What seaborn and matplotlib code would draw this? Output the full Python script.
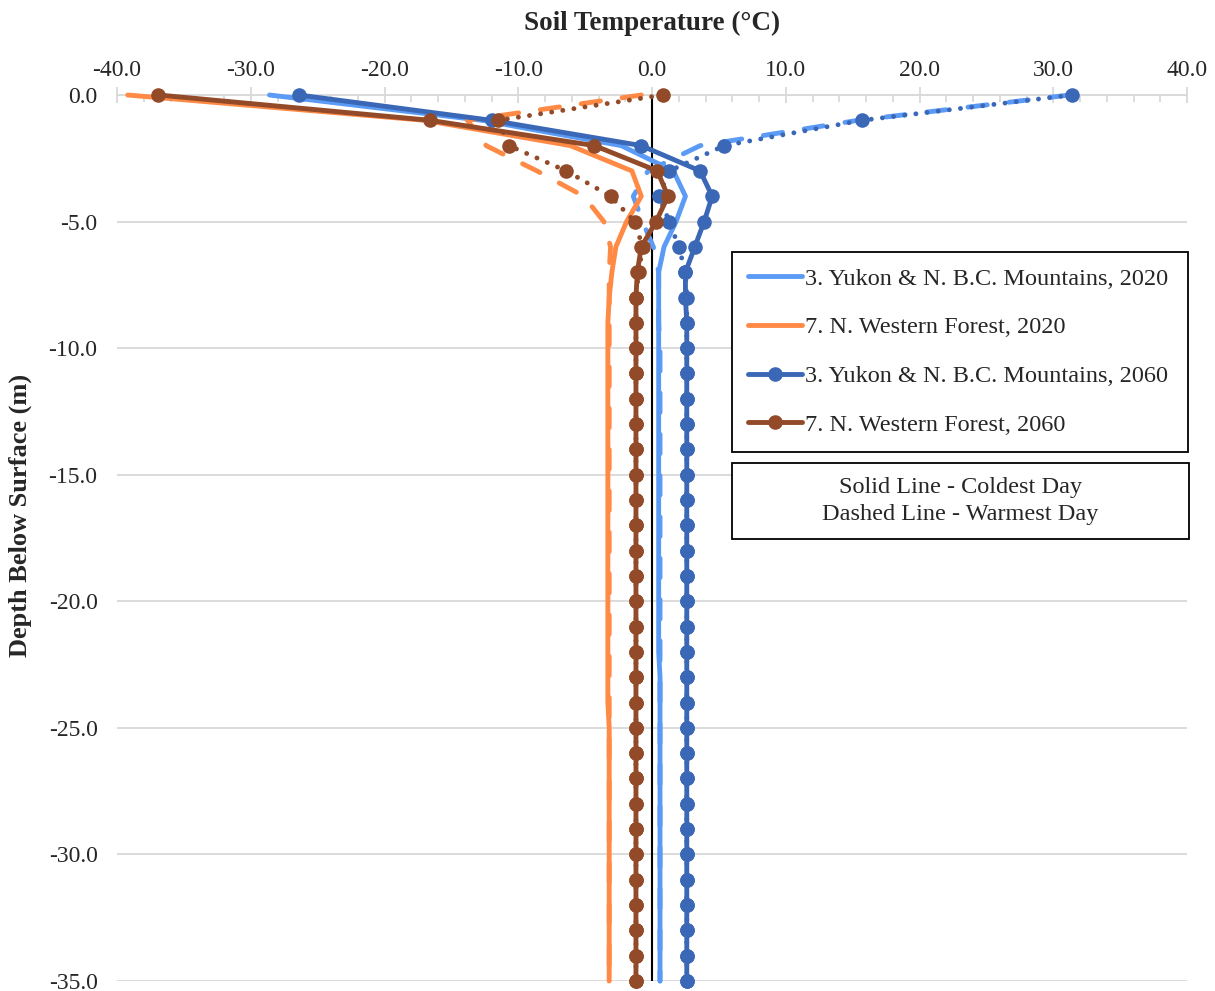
import matplotlib
matplotlib.use("Agg")
import matplotlib.pyplot as plt
from matplotlib.patches import Rectangle
from matplotlib.ticker import MultipleLocator
import pandas as pd
import seaborn as sns

# depth below surface (m), one reading per metre
depth = [0, -1, -2, -3, -4, -5, -6, -7, -8, -9,
         -10, -11, -12, -13, -14, -15, -16, -17, -18, -19,
         -20, -21, -22, -23, -24, -25, -26, -27, -28, -29,
         -30, -31, -32, -33, -34, -35]

# soil temperature (deg C)
yukon_2020_cold = [-28.6, -12.7, -2.3, 1.6, 2.5, 1.8, 0.9, 0.5, 0.5, 0.5,
                   0.5, 0.5, 0.5, 0.5, 0.5, 0.5, 0.5, 0.5, 0.5, 0.5,
                   0.5, 0.5, 0.5, 0.6, 0.6, 0.6, 0.6, 0.6, 0.6, 0.6,
                   0.6, 0.6, 0.6, 0.6, 0.6, 0.6]
yukon_2020_warm = [31.2, 15.4, 3.6, -0.3, -1.4, -0.7, 0.1, 0.5, 0.5, 0.5,
                   0.6, 0.6, 0.6, 0.6, 0.6, 0.6, 0.6, 0.6, 0.6, 0.6,
                   0.6, 0.6, 0.6, 0.6, 0.6, 0.6, 0.6, 0.6, 0.6, 0.6,
                   0.6, 0.6, 0.6, 0.6, 0.6, 0.6]
nwf_2020_cold = [-39.2, -17.0, -6.1, -1.5, -0.8, -1.9, -2.7, -3.0, -3.2, -3.3,
                 -3.3, -3.3, -3.3, -3.3, -3.3, -3.3, -3.3, -3.3, -3.3, -3.3,
                 -3.3, -3.3, -3.3, -3.3, -3.3, -3.2, -3.2, -3.2, -3.2, -3.2,
                 -3.2, -3.2, -3.2, -3.2, -3.2, -3.2]
nwf_2020_warm = [-0.8, -13.8, -12.4, -8.6, -5.1, -3.6, -3.1, -3.2, -3.2, -3.2,
                 -3.2, -3.2, -3.2, -3.2, -3.2, -3.2, -3.2, -3.2, -3.2, -3.2,
                 -3.2, -3.2, -3.2, -3.2, -3.2, -3.2, -3.2, -3.2, -3.2, -3.2,
                 -3.2, -3.2, -3.2, -3.2, -3.2, -3.2]
yukon_2060_cold = [-26.4, -12.0, -0.8, 3.6, 4.5, 3.9, 3.2, 2.5, 2.5, 2.6,
                   2.6, 2.6, 2.6, 2.6, 2.6, 2.6, 2.6, 2.6, 2.6, 2.6,
                   2.6, 2.6, 2.6, 2.6, 2.6, 2.6, 2.6, 2.6, 2.6, 2.6,
                   2.6, 2.6, 2.6, 2.6, 2.6, 2.6]
yukon_2060_warm = [31.4, 15.7, 5.4, 1.3, 0.5, 1.3, 2.0, 2.5, 2.6, 2.6,
                   2.6, 2.6, 2.6, 2.6, 2.6, 2.6, 2.6, 2.6, 2.6, 2.6,
                   2.6, 2.6, 2.6, 2.6, 2.6, 2.6, 2.6, 2.6, 2.6, 2.6,
                   2.6, 2.6, 2.6, 2.6, 2.6, 2.6]
nwf_2060_cold = [-36.9, -16.6, -4.3, 0.4, 1.2, 0.3, -0.8, -1.1, -1.2, -1.2,
                 -1.2, -1.2, -1.2, -1.2, -1.2, -1.2, -1.2, -1.2, -1.2, -1.2,
                 -1.2, -1.2, -1.2, -1.2, -1.2, -1.2, -1.2, -1.2, -1.2, -1.2,
                 -1.2, -1.2, -1.2, -1.2, -1.2, -1.2]
nwf_2060_warm = [0.8, -11.5, -10.7, -6.4, -3.1, -1.3, -0.7, -1.0, -1.2, -1.2,
                 -1.2, -1.2, -1.2, -1.2, -1.2, -1.2, -1.2, -1.2, -1.2, -1.2,
                 -1.2, -1.2, -1.2, -1.2, -1.2, -1.2, -1.2, -1.2, -1.2, -1.2,
                 -1.2, -1.2, -1.2, -1.2, -1.2, -1.2]

labels = ["3. Yukon & N. B.C. Mountains, 2020",
          "7. N. Western Forest, 2020",
          "3. Yukon & N. B.C. Mountains, 2060",
          "7. N. Western Forest, 2060"]
x_ticks = [-40, -30, -20, -10, 0, 10, 20, 30, 40]
y_ticks = [0, -5, -10, -15, -20, -25, -30, -35]
note = "Solid Line - Coldest Day\nDashed Line - Warmest Day"

LIGHT_BLUE = "#5B9BF5"
ORANGE = "#FF8A45"
DARK_BLUE = "#3A68B6"
BROWN = "#924A28"

DASHED = (0, (4, 4.5))
DOTTED = (0, (0.01, 2.3))

# (values, colour, linestyle, marker, legend label)
series = [
    (yukon_2020_cold, LIGHT_BLUE, "-", None, labels[0]),
    (yukon_2020_warm, LIGHT_BLUE, DASHED, None, None),
    (nwf_2020_cold, ORANGE, "-", None, labels[1]),
    (nwf_2020_warm, ORANGE, DASHED, None, None),
    (yukon_2060_cold, DARK_BLUE, "-", "o", labels[2]),
    (yukon_2060_warm, DARK_BLUE, DOTTED, "o", None),
    (nwf_2060_cold, BROWN, "-", "o", labels[3]),
    (nwf_2060_warm, BROWN, DOTTED, "o", None),
]

sns.set_theme(style="white")
plt.rcParams["font.family"] = ["Liberation Serif", "DejaVu Serif"]
plt.rcParams["axes.unicode_minus"] = False

fig = plt.figure(figsize=(12.15, 9.91), dpi=100)
ax = fig.add_axes([117 / 1215, 10 / 991, 1070 / 1215, 886 / 991])

handles = {}
for vals, color, ls, marker, label in series:
    df = pd.DataFrame({"temp": vals, "depth": depth})
    sns.lineplot(data=df, x="temp", y="depth", sort=False, estimator=None,
                 ax=ax, color=color, linestyle=ls, linewidth=3.5,
                 marker=marker, markersize=10.5, markeredgewidth=0,
                 dash_capstyle="round", solid_capstyle="round",
                 clip_on=False, zorder=3)
    if label:
        handles[label] = ax.lines[-1]

ax.axvline(0, color="black", linewidth=1.5, zorder=2)

ax.set_xlim(-40, 40)
ax.set_ylim(-35, 0)
ax.xaxis.tick_top()
ax.xaxis.set_label_position("top")
ax.set_xticks(x_ticks)
ax.set_xticklabels([f"{v:.1f}" for v in x_ticks])
ax.xaxis.set_minor_locator(MultipleLocator(2))
ax.set_yticks(y_ticks)
ax.set_yticklabels([f"{v:.1f}" for v in y_ticks])

ax.tick_params(axis="x", which="major", direction="inout", length=12,
               width=1.3, color="#D9D9D9", labelsize=17, pad=4)
ax.tick_params(axis="x", which="minor", direction="in", length=5,
               width=1.3, color="#D9D9D9")
ax.tick_params(axis="y", length=0, labelsize=17, pad=14)

ax.grid(axis="y", color="#D9D9D9", linewidth=1.3)
ax.grid(axis="x", visible=False)
for side in ["left", "right", "bottom"]:
    ax.spines[side].set_visible(False)
ax.spines["top"].set_color("#D9D9D9")
ax.spines["top"].set_linewidth(1.3)

ax.set_xlabel("Soil Temperature (°C)", fontsize=19.5, fontweight="bold",
              labelpad=22)
ax.set_ylabel("Depth Below Surface (m)", fontsize=19, fontweight="bold")
ax.yaxis.set_label_coords(-0.079, 0.525)

leg = ax.legend(handles=list(handles.values()), labels=list(handles.keys()),
                loc="upper left", bbox_to_anchor=(0.575, 0.823, 0.426, 0.0),
                mode="expand", fontsize=17.5, frameon=True, fancybox=False,
                edgecolor="black", framealpha=1, borderaxespad=0,
                handlelength=2.2, handletextpad=0.15, labelspacing=1.1,
                borderpad=0.65)
leg.get_frame().set_linewidth(1.3)

ax.add_patch(Rectangle((0.575, 0.499), 0.427, 0.086, transform=ax.transAxes,
                       facecolor="white", edgecolor="black", linewidth=1.3,
                       clip_on=False, zorder=5))
ax.text(0.788, 0.542, note, transform=ax.transAxes, ha="center", va="center",
        fontsize=17.5, linespacing=1.35, zorder=6)

fig.savefig("out.png", dpi=100)
